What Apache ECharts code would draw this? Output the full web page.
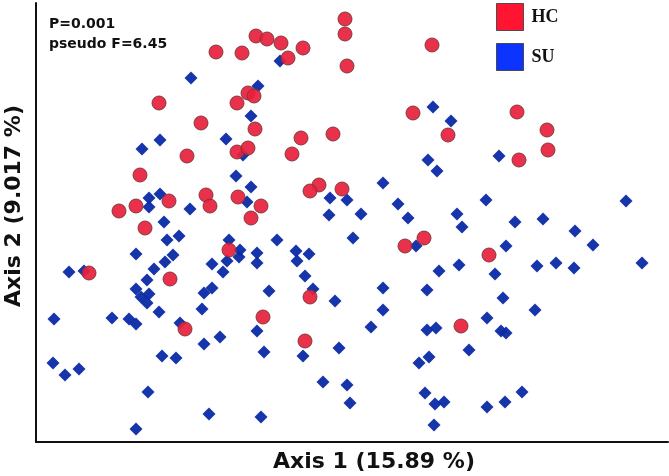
<!DOCTYPE html>
<html>
<head>
<meta charset="utf-8">
<script src="https://cdn.jsdelivr.net/npm/echarts@6/dist/echarts.min.js"></script>
<style>html,body{margin:0;padding:0;background:#fff}#c{width:669px;height:476px}</style>
</head>
<body>
<div id="c"></div>
<script>
const seriesNames = ['HC', 'SU'];
const axisNames = ['Axis 1 (15.89 %)', 'Axis 2 (9.017 %)'];
const statsText = ['P=0.001', 'pseudo F=6.45'];

const hcPoints = [
[0.009,0.203],[0.009,0.188],[-0.080,0.186],[-0.069,0.183],[-0.055,0.179],[-0.033,0.174],
[-0.120,0.170],[-0.094,0.169],[-0.048,0.164],[0.011,0.156],[-0.177,0.119],[-0.099,0.119],
[-0.088,0.129],[-0.082,0.126],[-0.135,0.099],[-0.081,0.093],[-0.035,0.084],[-0.003,0.088],
[-0.149,0.066],[-0.099,0.070],[-0.088,0.074],[-0.044,0.068],[-0.196,0.047],[-0.017,0.037],
[-0.026,0.031],[0.006,0.033],[-0.130,0.027],[-0.098,0.025],[-0.167,0.021],[-0.200,0.016],
[-0.217,0.011],[-0.126,0.016],[-0.075,0.016],[-0.085,0.004],[-0.191,-0.006],[0.096,0.177],
[0.077,0.109],[0.181,0.110],[0.211,0.092],[0.112,0.087],[0.212,0.072],[0.183,0.062],
[0.088,-0.016],[-0.107,-0.028],[-0.247,-0.051],[-0.166,-0.057],[-0.151,-0.107],[-0.073,-0.095],
[-0.026,-0.075],[-0.031,-0.119],[0.069,-0.024],[0.125,-0.104],[0.153,-0.033]
];

const suPoints = [
[-0.056,0.161],[-0.145,0.144],[-0.078,0.136],[-0.085,0.106],[-0.176,0.082],[-0.194,0.073],
[-0.110,0.083],[-0.093,0.067],[-0.100,0.046],[-0.085,0.035],[-0.187,0.024],[-0.176,0.028],
[-0.187,0.015],[-0.146,0.013],[-0.089,0.020],[-0.006,0.024],[0.011,0.022],[-0.007,0.007],
[-0.172,0.000],[-0.157,-0.014],[-0.169,-0.018],[-0.107,-0.018],[-0.059,-0.018],[0.097,0.115],
[0.115,0.101],[0.163,0.066],[0.092,0.062],[0.101,0.051],[0.047,0.039],[0.025,0.008],
[0.062,0.018],[0.072,0.004],[0.150,0.022],[0.121,0.008],[0.126,-0.005],[0.179,0.000],
[0.207,0.003],[0.239,-0.009],[0.290,0.021],[0.017,-0.016],[-0.200,-0.032],[-0.267,-0.050],
[-0.252,-0.049],[-0.163,-0.033],[-0.171,-0.040],[-0.182,-0.047],[-0.189,-0.058],[-0.200,-0.067],
[-0.195,-0.075],[-0.187,-0.072],[-0.189,-0.081],[-0.177,-0.090],[-0.124,-0.042],[-0.113,-0.050],
[-0.109,-0.039],[-0.096,-0.028],[-0.097,-0.035],[-0.079,-0.031],[-0.079,-0.041],[-0.040,-0.029],
[-0.039,-0.039],[-0.027,-0.032],[-0.031,-0.054],[-0.023,-0.067],[-0.001,-0.079],[-0.067,-0.069],
[-0.124,-0.066],[-0.132,-0.071],[-0.134,-0.087],[-0.156,-0.101],[-0.207,-0.097],[-0.200,-0.102],
[-0.224,-0.096],[-0.282,-0.097],[-0.116,-0.115],[-0.132,-0.122],[-0.079,-0.109],[-0.174,-0.134],
[-0.160,-0.136],[-0.072,-0.130],[-0.033,-0.134],[0.003,-0.126],[-0.283,-0.141],[-0.271,-0.153],
[-0.257,-0.147],[-0.188,-0.170],[-0.013,-0.160],[0.011,-0.163],[0.014,-0.181],[-0.127,-0.192],
[-0.075,-0.195],[-0.200,-0.207],[0.080,-0.024],[0.170,-0.024],[0.257,-0.023],[0.103,-0.049],
[0.123,-0.043],[0.159,-0.052],[0.201,-0.044],[0.220,-0.041],[0.238,-0.046],[0.306,-0.041],
[0.047,-0.066],[0.091,-0.068],[0.167,-0.076],[0.047,-0.088],[0.199,-0.088],[0.035,-0.105],
[0.091,-0.108],[0.100,-0.106],[0.151,-0.096],[0.165,-0.109],[0.170,-0.111],[0.133,-0.128],
[0.083,-0.141],[0.093,-0.135],[0.089,-0.171],[0.099,-0.182],[0.108,-0.180],[0.151,-0.185],
[0.169,-0.180],[0.186,-0.170],[0.098,-0.203]
];

const chart = echarts.init(document.getElementById('c'), null, {renderer: 'canvas'});
const hidden = {show: false};
chart.setOption({
  animation: false,
  backgroundColor: '#fff',
  grid: {left: 36, right: 1, top: 3, bottom: 34},
  xAxis: {
    type: 'value', min: -0.3, max: 0.332,
    axisLine: {show: true, onZero: false, lineStyle: {color: '#111', width: 2}},
    axisTick: hidden, axisLabel: hidden, splitLine: hidden
  },
  yAxis: {
    type: 'value', min: -0.22, max: 0.219,
    axisLine: {show: true, onZero: false, lineStyle: {color: '#111', width: 2}},
    axisTick: hidden, axisLabel: hidden, splitLine: hidden
  },
  legend: {
    orient: 'vertical', left: 496, top: 3, padding: 0, icon: 'rect',
    itemWidth: 27, itemHeight: 27, itemGap: 12,
    textStyle: {fontFamily: 'Liberation Serif, DejaVu Serif, serif', fontWeight: 'bold', fontSize: 18, color: '#111', padding: [2, 0, 0, 3]},
    data: [
      {name: seriesNames[0], itemStyle: {color: '#ff0020', borderColor: '#444', borderWidth: 1}},
      {name: seriesNames[1], itemStyle: {color: '#0028ff', borderColor: '#444', borderWidth: 1}}
    ]
  },
  graphic: [
    {type: 'text', left: 49, top: 14, style: {text: statsText.join('\n'), fontFamily: 'DejaVu Sans', fontWeight: 'bold', fontSize: 14, lineHeight: 20, fill: '#111'}},
    {type: 'text', x: 374, y: 462, style: {text: axisNames[0], fontFamily: 'DejaVu Sans', fontWeight: 'bold', fontSize: 22, fill: '#111', align: 'center', verticalAlign: 'middle'}},
    {type: 'text', x: 14, y: 206, rotation: Math.PI / 2, style: {text: axisNames[1], fontFamily: 'DejaVu Sans', fontWeight: 'bold', fontSize: 22, fill: '#111', align: 'center', verticalAlign: 'middle'}}
  ],
  series: [
    {
      name: seriesNames[1], type: 'scatter', symbol: 'diamond', symbolSize: 13, z: 2,
      itemStyle: {color: '#0a2aa6', opacity: 0.95},
      data: suPoints
    },
    {
      name: seriesNames[0], type: 'scatter', symbol: 'circle', symbolSize: 14, z: 3,
      itemStyle: {color: '#e8203c', borderColor: '#7a3535', borderWidth: 1, opacity: 0.92},
      data: hcPoints
    }
  ]
});
</script>
</body>
</html>
